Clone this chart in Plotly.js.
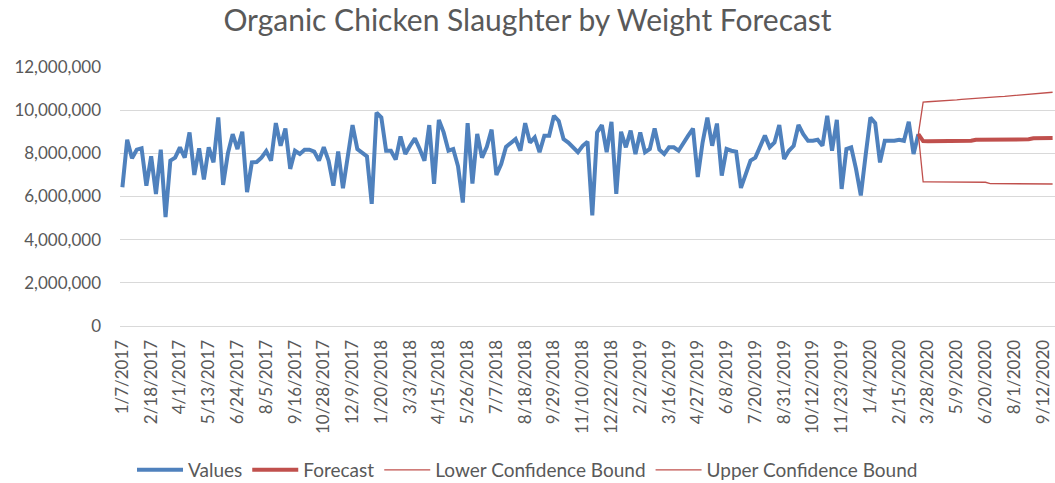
<!DOCTYPE html>
<html>
<head>
<meta charset="utf-8">
<script src="https://cdn.plot.ly/plotly-3.0.1.min.js"></script>
<style>
html,body{margin:0;padding:0;background:#fff;}
#chart{width:1055px;height:483px;}
</style>
</head>
<body>
<div id="chart"></div>
<script>
// Weekly categories (text axis)
const dates2017 = ["1/7/2017","1/14/2017","1/21/2017","1/28/2017","2/4/2017","2/11/2017","2/18/2017","2/25/2017","3/4/2017","3/11/2017","3/18/2017","3/25/2017","4/1/2017","4/8/2017","4/15/2017","4/22/2017","4/29/2017","5/6/2017","5/13/2017","5/20/2017","5/27/2017","6/3/2017","6/10/2017","6/17/2017","6/24/2017","7/1/2017","7/8/2017","7/15/2017","7/22/2017","7/29/2017","8/5/2017","8/12/2017","8/19/2017","8/26/2017","9/2/2017","9/9/2017","9/16/2017","9/23/2017","9/30/2017","10/7/2017","10/14/2017","10/21/2017","10/28/2017","11/4/2017","11/11/2017","11/18/2017","11/25/2017","12/2/2017","12/9/2017","12/16/2017","12/23/2017","12/30/2017"];
const dates2018 = ["1/6/2018","1/13/2018","1/20/2018","1/27/2018","2/3/2018","2/10/2018","2/17/2018","2/24/2018","3/3/2018","3/10/2018","3/17/2018","3/24/2018","3/31/2018","4/7/2018","4/15/2018","4/21/2018","4/28/2018","5/5/2018","5/12/2018","5/19/2018","5/26/2018","6/2/2018","6/9/2018","6/16/2018","6/23/2018","6/30/2018","7/7/2018","7/14/2018","7/21/2018","7/28/2018","8/4/2018","8/11/2018","8/18/2018","8/25/2018","9/1/2018","9/8/2018","9/15/2018","9/22/2018","9/29/2018","10/6/2018","10/13/2018","10/20/2018","10/27/2018","11/3/2018","11/10/2018","11/17/2018","11/24/2018","12/1/2018","12/8/2018","12/15/2018","12/22/2018","12/29/2018"];
const dates2019 = ["1/5/2019","1/12/2019","1/19/2019","1/26/2019","2/2/2019","2/9/2019","2/16/2019","2/23/2019","3/2/2019","3/9/2019","3/16/2019","3/23/2019","3/30/2019","4/6/2019","4/13/2019","4/20/2019","4/27/2019","5/4/2019","5/11/2019","5/18/2019","5/25/2019","6/1/2019","6/8/2019","6/15/2019","6/22/2019","6/29/2019","7/6/2019","7/13/2019","7/20/2019","7/27/2019","8/3/2019","8/10/2019","8/17/2019","8/24/2019","8/31/2019","9/7/2019","9/14/2019","9/21/2019","9/28/2019","10/5/2019","10/12/2019","10/19/2019","10/26/2019","11/2/2019","11/9/2019","11/16/2019","11/23/2019","11/30/2019","12/7/2019","12/14/2019","12/21/2019","12/28/2019"];
const dates2020 = ["1/4/2020","1/11/2020","1/18/2020","1/25/2020","2/1/2020","2/8/2020","2/15/2020","2/22/2020","2/29/2020","3/7/2020","3/14/2020","3/21/2020","3/28/2020","4/4/2020","4/11/2020","4/18/2020","4/25/2020","5/2/2020","5/9/2020","5/16/2020","5/23/2020","5/30/2020","6/6/2020","6/13/2020","6/20/2020","6/27/2020","7/4/2020","7/11/2020","7/18/2020","7/25/2020","8/1/2020","8/8/2020","8/15/2020","8/22/2020","8/29/2020","9/5/2020","9/12/2020","9/19/2020","9/26/2020"];

// Observed values (1/7/2017 .. 3/14/2020)
const values = [
6430000,8630000,7770000,8170000,8230000,6500000,7860000,6120000,8170000,5050000,
7660000,7800000,8280000,7800000,8970000,7000000,8230000,6790000,8280000,7580000,
9660000,6540000,8000000,8890000,8200000,9000000,6200000,7580000,7600000,7800000,
8100000,7660000,9400000,8350000,9150000,7280000,8120000,7970000,8170000,8170000,
8080000,7660000,8280000,7660000,6500000,8080000,6380000,7900000,9310000,8200000,
8050000,7860000,5660000,9890000,9660000,8120000,8120000,7710000,8780000,7970000,
8350000,8690000,8200000,7660000,9310000,6590000,9550000,8970000,8120000,8200000,
7400000,5720000,9400000,6600000,8900000,7800000,8300000,9100000,7000000,7500000,
8300000,8500000,8660000,8120000,9400000,8500000,8740000,8050000,8820000,8820000,
9740000,9500000,8660000,8500000,8280000,8050000,8350000,8540000,5120000,8970000,
9310000,8050000,9460000,6120000,9000000,8280000,9050000,7970000,8970000,8050000,
8200000,9150000,8170000,7970000,8280000,8280000,8120000,8500000,8820000,9150000,
6900000,8500000,9660000,8350000,9380000,6970000,8200000,8120000,8080000,6400000,
7050000,7660000,7800000,8350000,8820000,8280000,8500000,9310000,7740000,8120000,
8350000,9310000,8890000,8580000,8580000,8630000,8350000,9740000,8120000,9550000,
6350000,8200000,8280000,7280000,6050000,7900000,9660000,9400000,7580000,8580000,
8580000,8580000,8630000,8580000,9460000,7970000,8890000
];

// Forecast series (3/14/2020 .. 9/26/2020)
const forecast = [8890000,8570000,8560000,8560000,8560000,8570000,8570000,8570000,8570000,8580000,
8580000,8580000,8630000,8630000,8630000,8630000,8630000,8640000,8640000,8640000,
8640000,8640000,8650000,8650000,8700000,8710000,8710000,8710000,8710000];
const upperBound = [8890000,10370000,10390000,10400000,10420000,10430000,10450000,10470000,10480000,10500000,
10520000,10530000,10550000,10570000,10580000,10600000,10610000,10630000,10640000,10660000,
10670000,10690000,10700000,10720000,10740000,10760000,10780000,10800000,10830000];
const lowerBound = [8890000,6680000,6680000,6680000,6680000,6680000,6680000,6680000,6670000,6670000,
6670000,6670000,6670000,6670000,6660000,6600000,6600000,6600000,6600000,6600000,
6600000,6590000,6590000,6590000,6590000,6590000,6580000,6580000,6580000];

const yTicks = [0,2000000,4000000,6000000,8000000,10000000,12000000];

const categories = dates2017.concat(dates2018, dates2019, dates2020);
const valueCats = categories.slice(0, values.length);
const fcCats = categories.slice(values.length - 1, values.length - 1 + forecast.length);
const tickCats = categories.filter((c, i) => i % 6 === 0);

const FONT = "Lato, 'Open Sans', sans-serif";
const GREY = "#595959";

const traces = [
  {x: valueCats, y: values, type: "scatter", mode: "lines", name: "Values",
   line: {color: "#4F81BD", width: 4}},
  {x: fcCats, y: forecast, type: "scatter", mode: "lines", name: "Forecast",
   line: {color: "#C0504D", width: 4}},
  {x: fcCats, y: lowerBound, type: "scatter", mode: "lines", name: "Lower Confidence Bound",
   line: {color: "#C0504D", width: 1.3}},
  {x: fcCats, y: upperBound, type: "scatter", mode: "lines", name: "Upper Confidence Bound",
   line: {color: "#C0504D", width: 1.3}}
];

const layout = {
  width: 1055, height: 483,
  margin: {l: 120, r: 0, t: 67, b: 157},
  paper_bgcolor: "#fff", plot_bgcolor: "#fff",
  font: {family: FONT, color: GREY, size: 17},
  title: {text: "Organic Chicken Slaughter by Weight Forecast",
          font: {family: FONT, size: 30, color: GREY},
          x: 0.5, xanchor: "center", xref: "container",
          y: 0.957, yanchor: "middle", yref: "container"},
  xaxis: {type: "category", categoryorder: "array", categoryarray: categories,
          range: [-0.5, categories.length - 0.5],
          tickmode: "array", tickvals: tickCats, ticktext: tickCats,
          tickangle: -90, showgrid: false, ticks: "",
          showline: true, linecolor: "#D9D9D9", linewidth: 1,
          ticklabelstandoff: 6,
          tickfont: {family: FONT, size: 17, color: GREY}, zeroline: false},
  yaxis: {range: [0, 12000000], tickmode: "array", tickvals: yTicks,
          tickformat: ",d", showgrid: true, gridcolor: "#D9D9D9", gridwidth: 1,
          zeroline: false, showline: false, ticks: "",
          ticklabelstandoff: 18,
          tickfont: {family: FONT, size: 17, color: GREY}},
  showlegend: true,
  legend: {orientation: "h", x: 0.5, xanchor: "center", xref: "container",
           y: 0.027, yref: "container", yanchor: "middle",
           font: {family: FONT, size: 19, color: GREY}, itemwidth: 46,
           traceorder: "normal"}
};

Plotly.newPlot("chart", traces, layout, {displayModeBar: false, staticPlot: true});
</script>
</body>
</html>
